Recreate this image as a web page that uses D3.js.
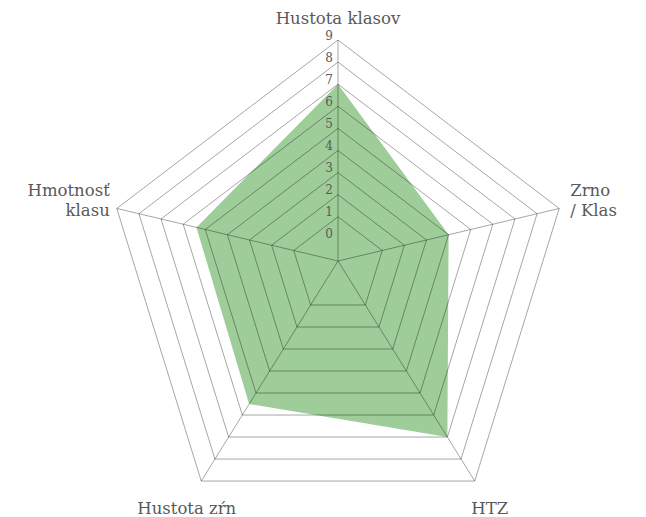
<!DOCTYPE html>
<html>
<head>
<meta charset="utf-8">
<script src="https://cdn.jsdelivr.net/npm/d3@7"></script>
<style>
  html, body { margin: 0; padding: 0; background: #fff; }
  svg { display: block; }
  text { font-family: "DejaVu Serif", serif; }
</style>
</head>
<body>
<svg id="chart" width="646" height="517"></svg>
<script>
// ---- data ----
const categories = ["Hustota klasov", "Zrno\n/ Klas", "HTZ", "Hustota zŕn", "Hmotnosť\nklasu"];
const values = [7.0, 4.0, 7.0, 5.5, 5.4];
const tickLabels = [0, 1, 2, 3, 4, 5, 6, 7, 8, 9];
const gridLevels = [1, 2, 3, 4, 5, 6, 7, 8, 9];

// ---- layout ----
const svg = d3.select("#chart");
const origin = { x: 338, y: 261 };           // where the spokes meet
const centroid = { x: 338, y: 283.8 };       // outer pentagon centre
const RX = 232.6, RY = 243.8;                // outer pentagon radii

const r = d3.scaleLinear().domain([-1, 9]).range([0, 1]);
const ang = d3.scaleLinear().domain([0, categories.length]).range([0, 2 * Math.PI]);

function vertex(i) {
  const a = ang(i);
  return [centroid.x + RX * Math.sin(a), centroid.y - RY * Math.cos(a)];
}
function pt(i, v) {
  const [vx, vy] = vertex(i);
  const f = r(v);
  return [origin.x + f * (vx - origin.x), origin.y + f * (vy - origin.y)];
}

const line = d3.line().curve(d3.curveLinearClosed);
const idx = d3.range(categories.length);

// data area
svg.append("path")
  .attr("d", line(idx.map(i => pt(i, values[i]))))
  .attr("fill", "rgb(158,205,153)")
  .attr("stroke", "none");

// grid rings
const gridColor = "rgba(0,0,0,0.35)";
svg.append("g").selectAll("path")
  .data(gridLevels)
  .join("path")
  .attr("d", lv => line(idx.map(i => pt(i, lv))))
  .attr("fill", "none")
  .attr("stroke", gridColor)
  .attr("stroke-width", 1);

// spokes
svg.append("g").selectAll("line")
  .data(idx)
  .join("line")
  .attr("x1", origin.x).attr("y1", origin.y)
  .attr("x2", i => vertex(i)[0]).attr("y2", i => vertex(i)[1])
  .attr("stroke", gridColor)
  .attr("stroke-width", 1);

// tick labels on the top spoke
svg.append("g").selectAll("text")
  .data(tickLabels)
  .join("text")
  .attr("x", origin.x - 5)
  .attr("y", v => pt(0, v)[1] - 0.5)
  .attr("text-anchor", "end")
  .attr("font-size", 12)
  .attr("fill", "#595959")
  .text(v => v);

// category labels
const labelPlace = [
  { dx: 0,   dy: -16, anchor: "middle" },
  { dx: 11,  dy: -12, anchor: "start" },
  { dx: 15,  dy: 33,  anchor: "middle" },
  { dx: -14.5, dy: 33, anchor: "middle" },
  { dx: -7,  dy: -12, anchor: "end" }
];
const lab = svg.append("g")
  .attr("font-size", 16.5)
  .attr("fill", "#595959");
idx.forEach(i => {
  const [vx, vy] = vertex(i);
  const p = labelPlace[i];
  const t = lab.append("text")
    .attr("x", vx + p.dx)
    .attr("y", vy + p.dy)
    .attr("text-anchor", p.anchor);
  categories[i].split("\n").forEach((s, k) => {
    t.append("tspan")
      .attr("x", vx + p.dx)
      .attr("dy", k === 0 ? 0 : 20)
      .text(s);
  });
});
</script>
</body>
</html>
